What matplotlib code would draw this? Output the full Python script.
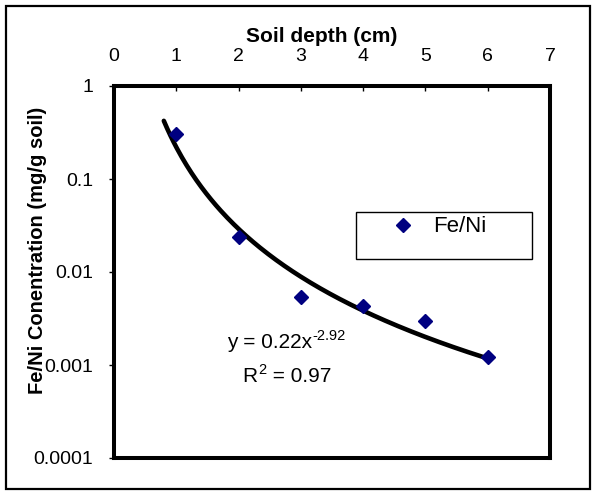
import numpy as np
import matplotlib
matplotlib.use("Agg")
import matplotlib.pyplot as plt
from matplotlib.patches import Rectangle

plt.rcParams['font.family'] = ['Liberation Sans', 'DejaVu Sans']

depth = [1, 2, 3, 4, 5, 6]
fe_ni = [0.305, 0.0238, 0.0054, 0.0043, 0.00297, 0.00122]
fit_a = 0.22
fit_b = -2.92
fit_range = [0.8, 6.0]
x_ticks = [0, 1, 2, 3, 4, 5, 6, 7]
y_ticks = [0.0001, 0.001, 0.01, 0.1, 1]
y_tick_labels = ['0.0001', '0.001', '0.01', '0.1', '1']

W, H = 596, 493
fig = plt.figure(figsize=(W / 100, H / 100), dpi=100)
L, R, T, B = 114, 550, 86, 458
ax = fig.add_axes([L / W, 1 - B / H, (R - L) / W, (B - T) / H])


def ax_x(px):
    return (px - L) / (R - L)


def ax_y(py):
    return 1 - (py - T) / (B - T)


xf = np.linspace(fit_range[0], fit_range[1], 200)
ax.plot(xf, fit_a * xf ** fit_b, color='black', lw=3.3, zorder=2, solid_capstyle='round')
ax.plot(depth, fe_ni, linestyle='none', marker='D', ms=7, color='#000080',
        mec='#000080', zorder=3, label='Fe/Ni')

ax.set_yscale('log')
ax.set_xlim(0, 7)
ax.set_ylim(0.0001, 1)
ax.set_xticks(x_ticks)
ax.set_xticklabels([str(t) for t in x_ticks])
ax.set_yticks(y_ticks)
ax.set_yticklabels(y_tick_labels)
ax.yaxis.set_minor_locator(matplotlib.ticker.NullLocator())

ax.xaxis.tick_top()
ax.xaxis.set_label_position('top')
ax.tick_params(axis='x', direction='in', length=3.6, width=1, labelsize=14, pad=15.3)
ax.tick_params(axis='y', direction='out', length=3.6, width=1, labelsize=14, pad=11.5)

for s in ax.spines.values():
    s.set_linewidth(2.9)
    s.set_color('black')

ax.set_xlabel('Soil depth (cm)', fontsize=15, fontweight='bold')
ax.xaxis.label.set_verticalalignment('baseline')
ax.xaxis.set_label_coords(ax_x(322), ax_y(42))
ax.set_ylabel('Fe/Ni Conentration (mg/g soil)', fontsize=14.5, fontweight='bold')
ax.yaxis.label.set_verticalalignment('baseline')
ax.yaxis.set_label_coords(ax_x(43), ax_y(250))

# equation and R^2
eq = ax.text(ax_x(227), ax_y(348), 'y = 0.22x', transform=ax.transAxes, fontsize=15,
             ha='left', va='baseline')
ax.annotate('-2.92', xy=(1.0, 1.0), xycoords=eq, xytext=(0, 3), textcoords='offset points',
            fontsize=10.5, ha='left', va='top')
r2 = ax.text(ax_x(242), ax_y(382), 'R', transform=ax.transAxes, fontsize=15,
             ha='left', va='baseline')
sup = ax.annotate('2', xy=(1.0, 1.0), xycoords=r2, xytext=(1, 3), textcoords='offset points',
                  fontsize=10.5, ha='left', va='top')
ax.annotate(' = 0.97', xy=(1.0, 0.0), xycoords=(sup, r2), xytext=(0, 0),
            textcoords='offset points', fontsize=15, ha='left', va='bottom')

# legend
ax.add_patch(Rectangle((ax_x(356), ax_y(259)), ax_x(532) - ax_x(356), ax_y(212) - ax_y(259),
                       transform=ax.transAxes, fill=True, facecolor='white',
                       edgecolor='black', lw=1.0, zorder=4))
leg = ax.legend(loc='center left', bbox_to_anchor=(ax_x(392), ax_y(227)), frameon=False,
                fontsize=16, borderpad=0, borderaxespad=0, handlelength=1.0,
                handletextpad=0.85)
leg.set_zorder(5)

# figure border
fig.patches.append(Rectangle((6 / W, 1 - 489 / H), (590 - 6) / W, (489 - 6) / H,
                             transform=fig.transFigure, fill=False, edgecolor='black', lw=1.6))

fig.savefig('out.png', dpi=100)
